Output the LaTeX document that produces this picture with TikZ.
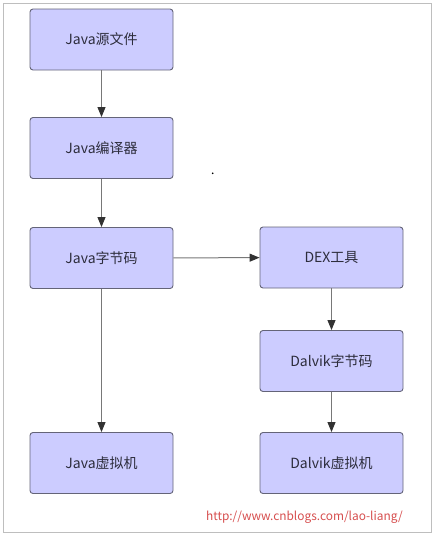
\documentclass[tikz,border=0pt]{standalone}
\usepackage{fontspec}
\setmainfont{Noto Sans CJK SC}
\usetikzlibrary{arrows.meta}
\definecolor{boxfill}{RGB}{204,204,255}
\definecolor{boxline}{RGB}{100,100,120}
\definecolor{txt}{RGB}{45,45,60}
\definecolor{shaft}{RGB}{120,120,120}
\definecolor{tipc}{RGB}{50,50,50}
\definecolor{frame}{RGB}{190,190,190}
\definecolor{urlc}{RGB}{214,78,78}
\begin{document}
\begin{tikzpicture}[x=1pt,y=-1pt,
  stepbox/.style={draw=boxline,line width=0.9pt,fill=boxfill,rounded corners=3pt,
    minimum width=143pt,minimum height=61pt,inner sep=0pt,text=txt,
    font=\fontsize{14}{17}\selectfont},
  flow/.style={draw=shaft,line width=1pt,-{Triangle[length=10pt,width=8pt,fill=tipc,color=tipc]}}]
\useasboundingbox (0,0) rectangle (435,536);
\draw[frame,line width=0.8pt] (3.5,3.5) rectangle (431.5,532.5);
\node[stepbox] (src) at (101.5,39.5) {Java源文件};
\node[stepbox] (javac) at (101.5,148) {Java编译器};
\node[stepbox] (bc) at (101.5,258) {Java字节码};
\node[stepbox] (jvm) at (101.5,463) {Java虚拟机};
\node[stepbox] (dex) at (331.5,257.5) {DEX工具};
\node[stepbox] (dbc) at (331.5,361) {Dalvik字节码};
\node[stepbox] (dvm) at (331.5,463) {Dalvik虚拟机};
\draw[flow] (src) -- (javac);
\draw[flow] (javac) -- (bc);
\draw[flow] (bc) -- (jvm);
\draw[flow] (bc) -- (dex);
\draw[flow] (dex) -- (dbc);
\draw[flow] (dbc) -- (dvm);
\node[text=urlc,font=\fontsize{11.9}{14}\selectfont,anchor=east,inner sep=0pt] (url) at (403,517) {http://www.cnblogs.com/lao-liang/};
\fill[black] (212.7,173.3) circle (0.9pt);
\end{tikzpicture}
\end{document}
